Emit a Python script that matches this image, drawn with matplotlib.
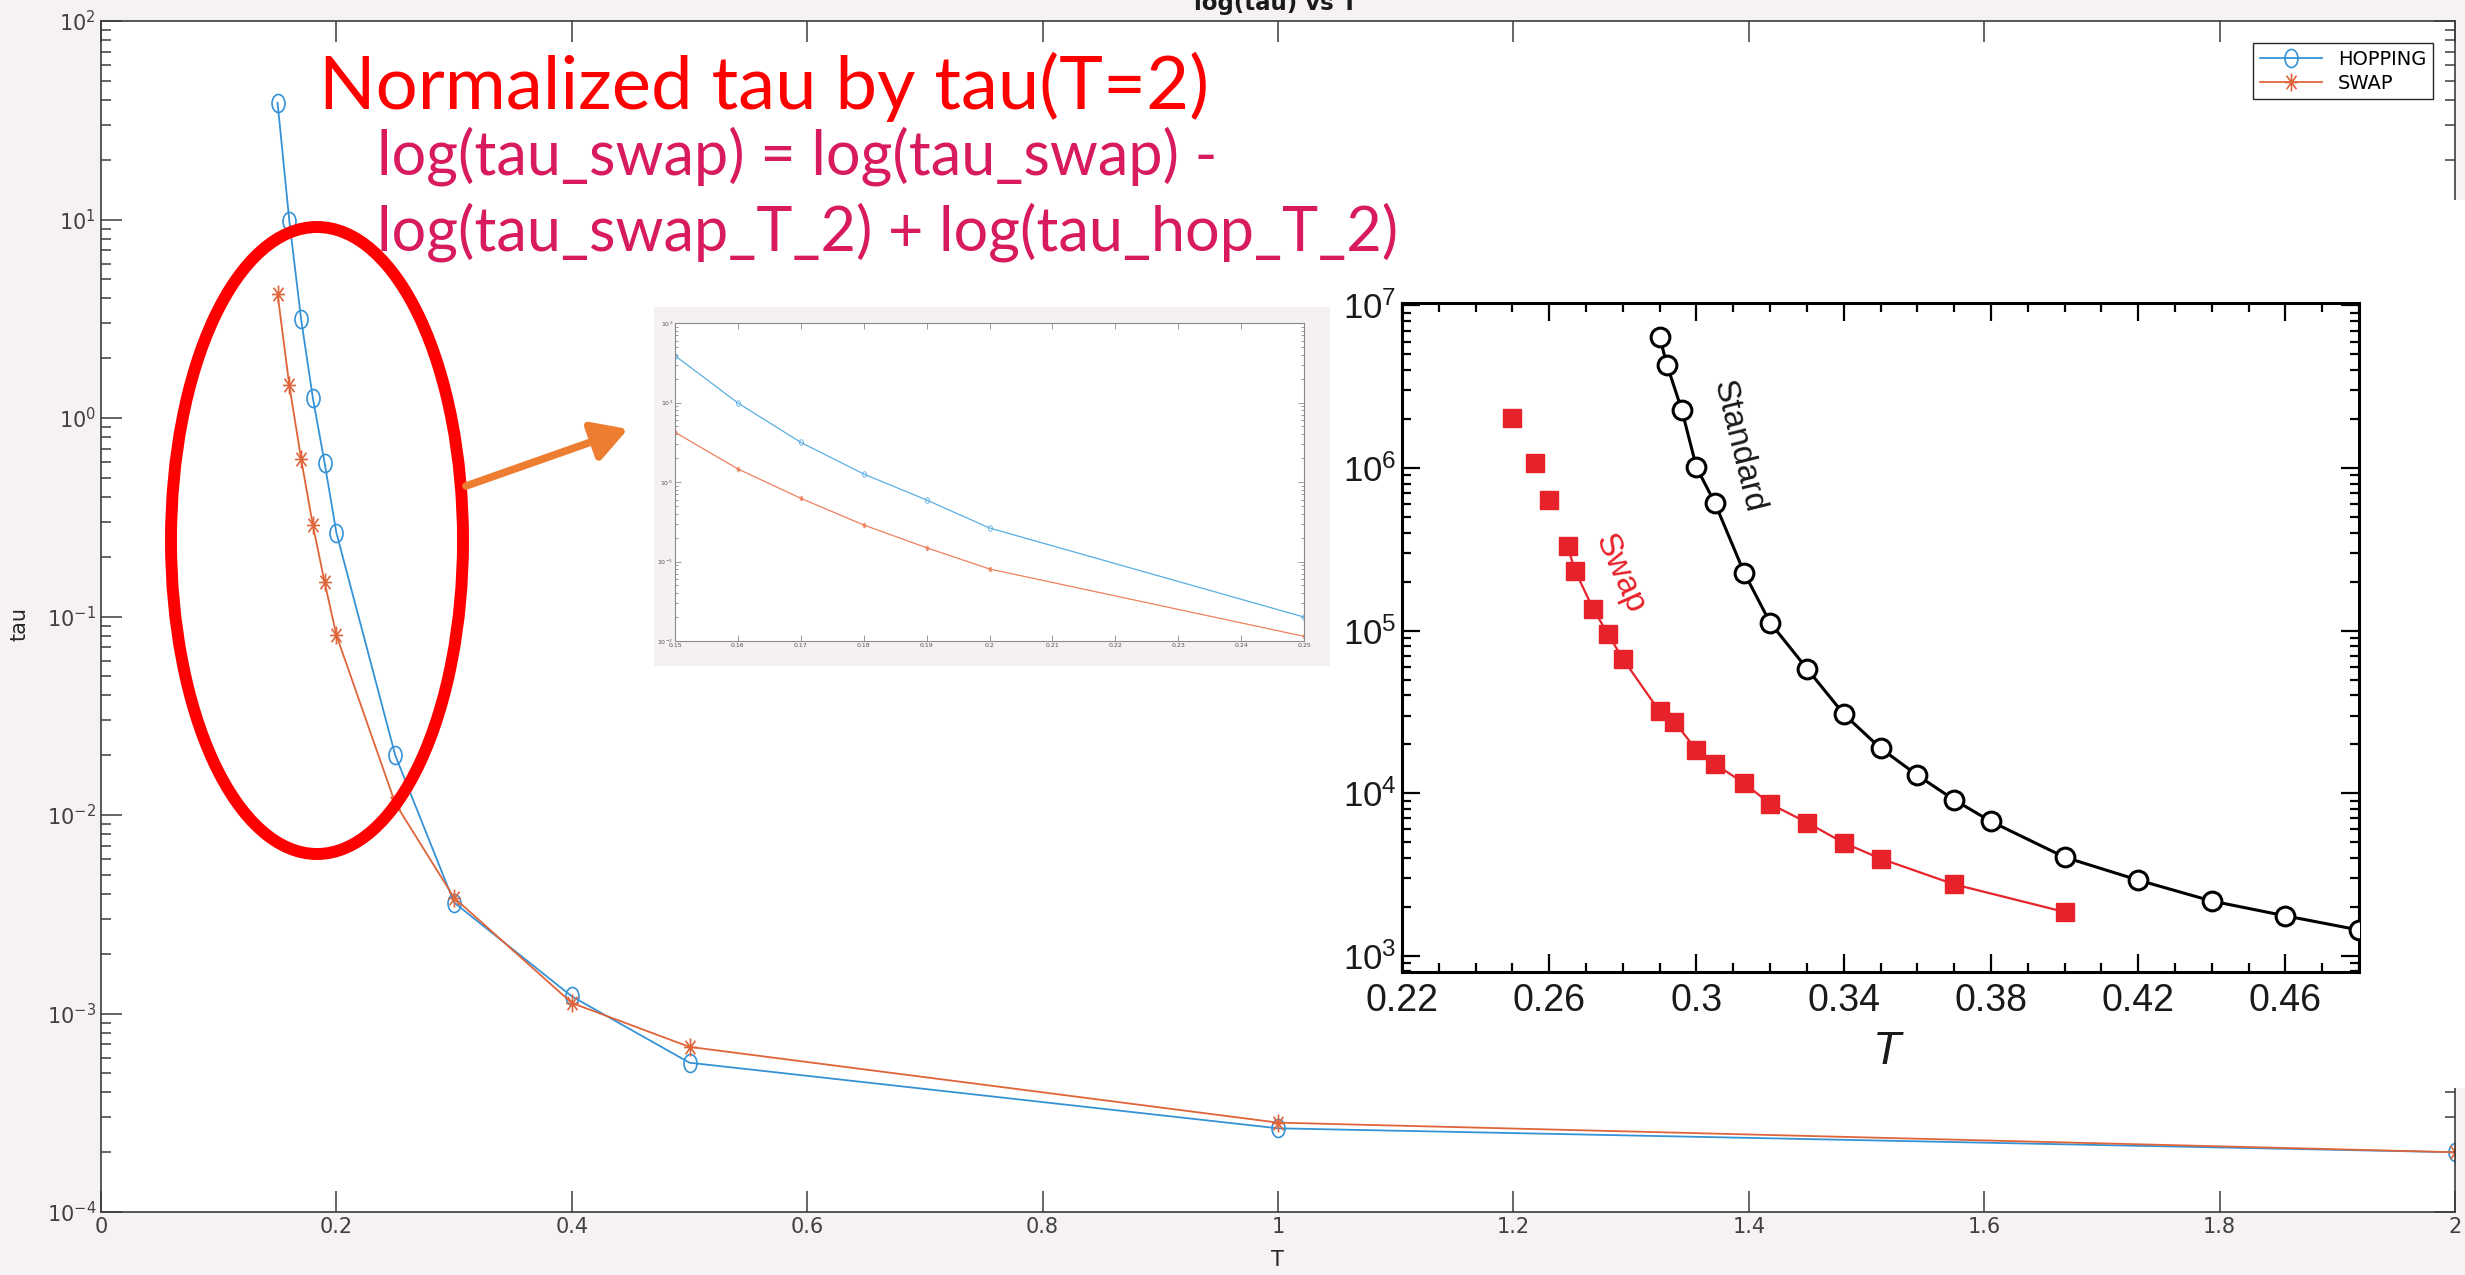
import matplotlib
matplotlib.use("Agg")
import matplotlib.pyplot as plt
from matplotlib.path import Path
from matplotlib.patches import Ellipse, Rectangle
from matplotlib.ticker import LogLocator, NullFormatter, FixedLocator

W, H = 2465, 1275

# main MATLAB figure: normalized tau vs T
T_main = [0.15, 0.16, 0.17, 0.18, 0.19, 0.2, 0.25, 0.3, 0.4, 0.5, 1.0, 2.0]
tau_hop = [38.8, 9.86, 3.15, 1.26, 0.594, 0.264, 0.0200, 3.62e-3, 1.22e-3, 5.65e-4, 2.64e-4, 2.0e-4]
tau_swap = [4.22, 1.46, 0.623, 0.288, 0.149, 0.0805, 0.01145, 3.83e-3, 1.13e-3, 6.79e-4, 2.82e-4, 2.0e-4]
main_xticks = [0, 0.2, 0.4, 0.6, 0.8, 1.0, 1.2, 1.4, 1.6, 1.8, 2.0]
main_xlabels = ['0', '0.2', '0.4', '0.6', '0.8', '1', '1.2', '1.4', '1.6', '1.8', '2']

# zoomed snapshot (first 7 points of the main figure)
n_zoom = 7
zoom_xticks = [0.15, 0.16, 0.17, 0.18, 0.19, 0.2, 0.21, 0.22, 0.23, 0.24, 0.25]
zoom_xlabels = ['0.15', '0.16', '0.17', '0.18', '0.19', '0.2', '0.21', '0.22', '0.23', '0.24', '0.25']

# paper figure: standard vs swap
T_std = [0.29, 0.292, 0.296, 0.30, 0.305, 0.313, 0.32, 0.33, 0.34, 0.35, 0.36, 0.37, 0.38,
         0.40, 0.42, 0.44, 0.46, 0.48]
tau_std = [6.4e6, 4.3e6, 2.28e6, 1.01e6, 6.1e5, 2.26e5, 1.12e5, 5.84e4, 3.07e4, 1.89e4, 1.29e4,
           9.1e3, 6.7e3, 4.04e3, 2.92e3, 2.17e3, 1.76e3, 1.44e3]
T_sw = [0.25, 0.256, 0.26, 0.265, 0.267, 0.272, 0.276, 0.28, 0.29, 0.294, 0.30, 0.305, 0.313,
        0.32, 0.33, 0.34, 0.35, 0.37, 0.40]
tau_sw = [2.03e6, 1.08e6, 6.4e5, 3.3e5, 2.34e5, 1.35e5, 9.5e4, 6.7e4, 3.18e4, 2.74e4, 1.85e4,
          1.51e4, 1.15e4, 8.6e3, 6.6e3, 4.95e3, 3.96e3, 2.75e3, 1.86e3]
sw_line_start = 3  # first three squares are not joined
paper_xticks = [0.22, 0.26, 0.30, 0.34, 0.38, 0.42, 0.46]
paper_xlabels = ['0.22', '0.26', '0.3', '0.34', '0.38', '0.42', '0.46']
paper_yticks = [1e3, 1e4, 1e5, 1e6, 1e7]
paper_ylabels = [r'$\mathregular{10^{3}}$', r'$\mathregular{10^{4}}$', r'$\mathregular{10^{5}}$',
                 r'$\mathregular{10^{6}}$', r'$\mathregular{10^{7}}$']

BLUE = '#3592d6'
ORANGE = '#e0643a'
BG = '#f5f1f5'
AXC = '#3c3c3c'


def fig_box(left, top, right, bottom):
    # pixel box (from top-left) -> figure fraction
    return [left / W, 1 - bottom / H, (right - left) / W, (bottom - top) / H]


plt.rcParams['font.family'] = ['DejaVu Sans']
fig = plt.figure(figsize=(W / 100, H / 100), dpi=100, facecolor=BG)

# MATLAB 'o' and '*' markers look squeezed sideways in the screenshot
circ = Path.unit_circle()
hop_marker = Path(circ.vertices * [0.72, 1.0], circ.codes)
swap_marker = Path([(0, -1), (0, 1), (-0.72, 0), (0.72, 0),
                    (-0.55, -0.75), (0.55, 0.75), (-0.55, 0.75), (0.55, -0.75)],
                   [Path.MOVETO, Path.LINETO] * 4)

# ---- main axes
ax = fig.add_axes(fig_box(101, 21, 2455, 1212))
ax.plot(T_main, tau_hop, color=BLUE, lw=1.3, marker=hop_marker, ms=13, mfc='none', mew=1.2,
        label='HOPPING')
ax.plot(T_main, tau_swap, color=ORANGE, lw=1.3, marker=swap_marker, ms=13, mfc='none', mew=1.2,
        label='SWAP')
ax.set_yscale('log')
ax.set_xlim(0, 2)
ax.set_ylim(1e-4, 1e2)
ax.set_xticks(main_xticks, main_xlabels)
ax.yaxis.set_major_locator(LogLocator(base=10, numticks=10))
ax.yaxis.set_minor_locator(LogLocator(base=10, subs=(2, 3, 4, 5, 6, 7, 8, 9), numticks=100))
ax.yaxis.set_minor_formatter(NullFormatter())
ax.tick_params(which='both', direction='in', top=True, right=True, color=AXC, labelcolor='#404040',
               labelsize=15, width=1.1)
ax.tick_params(which='major', length=15)
ax.tick_params(which='minor', length=7)
for s in ax.spines.values():
    s.set_color(AXC)
    s.set_linewidth(1.2)
ax.legend(loc='upper right', bbox_to_anchor=(2433 / W, 1 - 43 / H), bbox_transform=fig.transFigure,
          fontsize=14, handlelength=3.2, labelspacing=0.25, borderaxespad=0, fancybox=False,
          framealpha=1, edgecolor='#262626', borderpad=0.35)

# title sits half off the top edge, as in the screenshot
fig.text(1276 / W, 1 - 10 / H, 'log(tau) vs T', ha='center', va='baseline', fontsize=16.5,
         weight='bold', color='#1a1a1a')
fig.text(1277 / W, 1 - 1260 / H, 'T', ha='center', va='center', fontsize=15, color='#262626')
fig.text(19 / W, 1 - 624 / H, 'tau', ha='center', va='center', rotation=90, fontsize=15,
         color='#262626')

# ---- slide overlay: boxes, ellipse, arrow, notes
ov = fig.add_axes([0, 0, 1, 1])
ov.set_xlim(0, W)
ov.set_ylim(H, 0)
ov.axis('off')
ov.add_patch(Rectangle((1330, 200), W - 1330, 888, fc='white', ec='none'))
ov.add_patch(Rectangle((654, 307), 676, 359, fc='#f4f0f4', ec='none'))
ov.add_patch(Ellipse((317, 540.5), 292, 627, fill=False, ec='#ff0000', lw=8.6))
ov.annotate('', xy=(628, 429), xytext=(466, 486),
            arrowprops=dict(arrowstyle='-|>,head_length=0.7,head_width=0.4', color='#ed7d31',
                            lw=5.5, mutation_scale=30, shrinkA=0, shrinkB=0))
ov.text(319, 109, 'Normalized tau by tau(T=2)', color='#ff0000', fontsize=53.5,
        family=['Lato', 'DejaVu Sans'], ha='left', va='baseline')
ov.text(377, 174, 'log(tau_swap) = log(tau_swap) -', color='#d81b5e', fontsize=44,
        family=['Lato', 'DejaVu Sans'], ha='left', va='baseline')
ov.text(377, 250, 'log(tau_swap_T_2) + log(tau_hop_T_2)', color='#d81b5e', fontsize=44,
        family=['Lato', 'DejaVu Sans'], ha='left', va='baseline')

# ---- zoomed snapshot of the same data
ax1 = fig.add_axes(fig_box(675, 323, 1304, 641))
ax1.plot(T_main[:n_zoom], tau_hop[:n_zoom], color='#5aaee2', lw=0.9, marker=hop_marker, ms=4,
         mfc='none', mew=0.6)
ax1.plot(T_main[:n_zoom], tau_swap[:n_zoom], color='#ee8060', lw=0.9, marker=swap_marker, ms=4,
         mfc='none', mew=0.6)
ax1.set_yscale('log')
ax1.set_xlim(0.15, 0.25)
ax1.set_ylim(1e-2, 1e2)
ax1.set_xticks(zoom_xticks, zoom_xlabels)
ax1.yaxis.set_major_locator(LogLocator(base=10, numticks=10))
ax1.yaxis.set_minor_locator(LogLocator(base=10, subs=(2, 3, 4, 5, 6, 7, 8, 9), numticks=100))
ax1.yaxis.set_minor_formatter(NullFormatter())
ax1.tick_params(which='both', direction='in', top=True, right=True, color='#8a8a8a',
                labelcolor='#555555', labelsize=4.5, width=0.6, pad=1.5)
ax1.tick_params(which='major', length=4)
ax1.tick_params(which='minor', length=2)
for s in ax1.spines.values():
    s.set_color('#8a8a8a')
    s.set_linewidth(0.8)

# ---- paper figure (standard vs swap)
ax2 = fig.add_axes(fig_box(1402, 303, 2359, 972))
ax2.plot(T_std, tau_std, color='black', lw=2.2, marker='o', ms=13.5, mfc='white', mec='black',
         mew=2.2, zorder=3)
ax2.plot(T_sw[sw_line_start:], tau_sw[sw_line_start:], color='#e8222a', lw=1.6, zorder=2)
ax2.plot(T_sw, tau_sw, ls='none', marker='s', ms=13, color='#e8222a', zorder=3)
ax2.set_yscale('log')
ax2.set_xlim(0.22, 0.48)
ax2.set_ylim(10 ** 2.9, 10 ** 7.015)
ax2.set_xticks(paper_xticks, paper_xlabels)
ax2.xaxis.set_minor_locator(FixedLocator([0.23, 0.24, 0.25, 0.27, 0.28, 0.29, 0.31, 0.32, 0.33,
                                          0.35, 0.36, 0.37, 0.39, 0.40, 0.41, 0.43, 0.44, 0.45,
                                          0.47, 0.48]))
ax2.set_yticks(paper_yticks, paper_ylabels)
ax2.yaxis.set_minor_locator(LogLocator(base=10, subs=(2, 3, 4, 5, 6, 7, 8, 9), numticks=100))
ax2.yaxis.set_minor_formatter(NullFormatter())
ax2.tick_params(which='both', direction='in', top=True, right=True, color='black', width=1.6,
                labelfontfamily='Liberation Sans', labelcolor='#1a1a1a')
ax2.tick_params(which='major', length=13)
ax2.tick_params(which='minor', length=6.5)
ax2.tick_params(axis='x', labelsize=27, pad=8)
ax2.tick_params(axis='y', labelsize=25, pad=4)
for s in ax2.spines.values():
    s.set_color('black')
    s.set_linewidth(2.2)
ax2.text(0.3113, 1.35e6, 'Standard', rotation=-76, fontsize=24, family='Liberation Sans',
         color='#1a1a1a', ha='center', va='center', rotation_mode='anchor')
ax2.text(0.2790, 2.24e5, 'Swap', rotation=-66, fontsize=24, family='Liberation Sans',
         color='#e8222a', ha='center', va='center', rotation_mode='anchor')
fig.text(1887 / W, 1 - 1052 / H, 'T', style='italic', fontsize=33, family='Liberation Sans',
         color='#1a1a1a', ha='center', va='center')

fig.savefig('out.png', dpi=100, facecolor=BG)
